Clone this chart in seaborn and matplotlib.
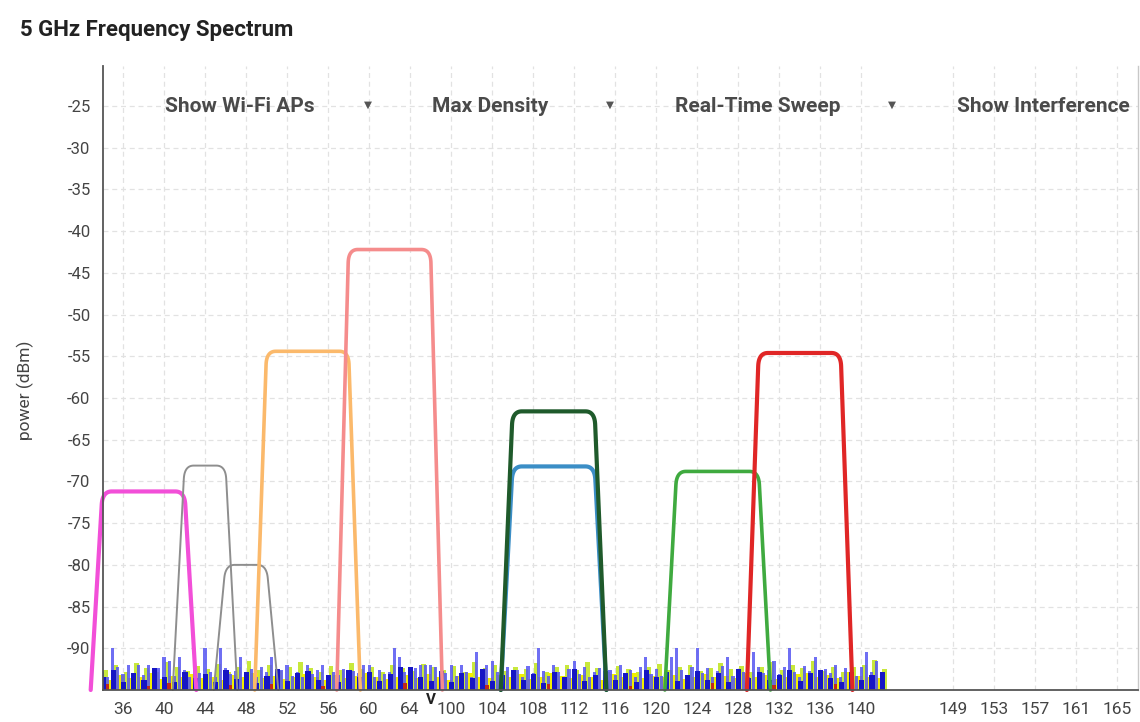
import numpy as np
import pandas as pd
import matplotlib
matplotlib.use("Agg")
import matplotlib.pyplot as plt
import seaborn as sns

# ---------------- data ----------------
tick_channels = [36, 40, 44, 48, 52, 56, 60, 64,
                 100, 104, 108, 112, 116, 120, 124, 128, 132, 136, 140,
                 149, 153, 157, 161, 165]
y_ticks = [-90, -85, -80, -75, -70, -65, -60, -55, -50, -45, -40, -35, -30, -25]

# access points: centre channel, channel width (MHz), peak power (dBm)
ap_channel = [38, 44, 48, 54, 62, 110, 110, 126, 134]
ap_width = [40, 20, 20, 40, 40, 40, 40, 40, 40]
ap_power = [-71.2, -68.1, -80.0, -54.4, -42.2, -68.2, -61.6, -68.8, -54.6]
ap_color = ["#f24fd8", "#8e8e8e", "#8e8e8e", "#fbb96b", "#f58c8c",
            "#3b8ec6", "#1f5a2b", "#3faa3f", "#e02626"]
ap_lw = [3.0, 1.4, 1.4, 2.6, 2.6, 3.0, 3.0, 2.6, 3.0]

# noise floor (dBm) — samples every half channel of the displayed axis from 34
blue_peak = [-92.8, -93.4, -90.0, -92.3, -93.1, -92.0, -93.6, -92.0, -93.2, -92.0,
             -93.0, -92.4, -91.0, -91.5, -93.3, -91.0, -92.6, -93.4, -92.2, -93.0,
             -90.0, -92.8, -93.5, -90.0, -92.4, -93.1, -92.7, -91.0, -93.2, -92.5,
             -93.4, -92.2, -92.9, -91.0, -93.0, -92.6, -92.0, -93.3, -92.8, -93.5,
             -92.0, -93.1, -92.6, -92.0, -93.4, -92.9, -93.2, -92.5, -93.6, -92.7,
             -93.0, -92.0, -92.0, -93.4, -92.6, -93.1, -92.8, -90.0, -91.0, -92.9,
             -93.2, -92.4, -92.0, -92.0, -92.0, -92.2, -93.5, -93.0, -92.0, -93.3,
             -92.0, -92.8, -93.4, -90.5, -93.0, -92.0, -91.5, -92.9, -93.4, -92.3,
             -93.1, -92.6, -93.5, -92.1, -93.0, -90.0, -92.7, -93.3, -92.0, -92.8,
             -93.4, -92.5, -91.5, -93.1, -92.2, -93.5, -92.9, -92.4, -90.0, -92.6,
             -93.2, -92.0, -93.0, -92.6, -93.4, -92.2, -91.0, -93.1, -92.5, -93.3,
             -92.8, -91.0, -90.0, -92.6, -93.2, -92.2, -90.0, -93.0, -92.4, -93.4,
             -92.7, -92.1, -91.0, -93.3, -92.5, -92.9, -93.4, -90.5, -92.2, -93.0,
             -92.6, -91.5, -93.1, -92.3, -90.0, -92.8, -93.4, -92.1, -92.7, -91.0,
             -93.2, -92.5, -93.0, -92.0, -93.5, -92.4, -92.9, -93.3, -92.2, -90.5,
             -92.8, -91.5, -93.0]
# samples every channel of the displayed axis from 34
blue_base = [-93.5, -92.6, -94.0, -93.0, -93.8, -92.4, -93.4, -94.1, -92.8, -93.6,
             -93.1, -94.0, -92.6, -93.7, -92.9, -94.2, -93.3, -92.5, -93.9, -93.0,
             -92.7, -93.8, -93.2, -94.0, -92.6, -93.5, -92.9, -93.9, -93.1, -92.3,
             -92.2, -93.4, -93.9, -92.7, -94.1, -93.0, -93.6, -92.5, -93.9, -93.2,
             -92.6, -93.8, -93.1, -94.2, -92.8, -93.5, -92.5, -93.9, -93.2, -92.7,
             -93.8, -93.0, -94.0, -92.6, -93.5, -92.9, -93.9, -93.2, -92.7, -93.8,
             -93.0, -94.0, -92.5, -93.6, -92.9, -93.8, -93.2, -92.6, -93.9, -93.0,
             -92.6, -93.6, -94.0, -92.9, -93.8, -93.2, -92.8]
green_noise = [-92.6, -92.0, -92.8, -91.8, -92.4, -92.9, -91.6, -92.3, -92.7, -92.1,
               -92.5, -91.9, -92.8, -92.2, -91.5, -92.6, -92.0, -92.7, -92.3, -91.7,
               -92.4, -92.9, -92.1, -92.6, -91.8, -92.5, -92.2, -92.8, -92.0, -92.4,
               -92.7, -91.9, -92.3, -92.6, -92.1, -92.8, -91.6, -92.4, -92.0, -92.7,
               -92.2, -92.5, -91.8, -92.9, -92.3, -92.0, -92.6, -91.7, -92.4, -92.8,
               -92.1, -92.5, -92.9, -92.2, -91.9, -92.6, -92.3, -92.0, -92.7, -92.4,
               -91.8, -92.5, -92.1, -92.8, -92.3, -91.6, -92.6, -92.0, -92.4, -91.5,
               -92.7, -92.2, -92.9, -92.3, -92.0, -91.4, -92.5]
yellow_noise = [-93.5, -93.8, -93.2, -93.6, -93.4, -93.0, -93.7, -93.3, -93.5, -93.1,
                -93.6, -93.4, -93.8, -93.2, -93.5, -93.0, -93.6, -93.3, -93.7, -93.4,
                -93.1, -93.5, -93.8, -93.2, -93.6, -93.3, -93.0, -93.5, -93.7, -93.4,
                -93.2, -93.6, -93.1, -93.5, -93.8, -93.3, -93.0, -93.4, -93.6, -93.2,
                -93.5, -93.1, -93.7, -93.4, -93.0, -93.3, -93.6, -93.2, -93.5, -93.8,
                -93.1, -93.4, -93.0, -93.6, -93.3, -93.5, -93.2, -93.7, -93.4, -93.1,
                -93.5, -93.3, -93.6, -93.0, -93.4, -93.2, -93.7, -93.5, -93.1, -93.0,
                -93.4, -93.2, -93.6, -92.8, -93.3, -93.5, -93.6]
red_channel = [34.5, 38.5, 40.5, 46.5, 50.5, 55.5, 63.5, 103.5, 109.5, 117.5, 125.5, 131.5, 137.5]
red_noise = [-94.3, -94.5, -94.2, -94.4, -94.3, -94.5, -94.2, -94.4, -94.3, -94.5, -94.2, -94.4, -94.3]

FLOOR = -95.0


def ch_to_x(ch):
    """Displayed axis skips the unused channels 66..98."""
    ch = np.asarray(ch, dtype=float)
    return np.where(ch <= 66, ch, ch - 32)


def ap_shape(cx, width, top):
    """Trapezoid with rounded top corners, from the floor up to `top`."""
    th = width / 10.0          # flat half width (channels)
    bh = th + 1.15             # half width at the floor
    rx, ry = 0.9, 1.6
    pts = []
    for side in (-1, 1):
        corner = np.array([cx + side * th, top])
        base = np.array([cx + side * bh, FLOOR])
        f = ry / (top - FLOOR)
        p_side = corner + f * (base - corner)
        p_top = np.array([cx + side * (th - rx), top])
        t = np.linspace(0, 1, 20)[:, None]
        bez = (1 - t) ** 2 * p_side + 2 * (1 - t) * t * corner + t ** 2 * p_top
        seg = np.vstack([base, bez])
        if side == 1:
            seg = seg[::-1]
        pts.append(seg)
    return np.vstack(pts)


# ---------------- figure ----------------
sns.set_theme(style="white")
plt.rcParams["font.family"] = ["Roboto", "DejaVu Sans"]

W, H = 1140, 722
fig = plt.figure(figsize=(W / 100, H / 100), dpi=100)
ax = fig.add_axes([103 / W, 1 - 690 / H, (1138 - 103) / W, (690 - 66) / H])

x0 = 34.0
# noise bars
xs_half = x0 + 0.5 * np.arange(len(blue_peak))
xs_one = x0 + 1.0 * np.arange(len(blue_base))
ax.bar(xs_one + 0.3, np.array(green_noise) - FLOOR, bottom=FLOOR, width=0.45,
       color="#c8e83c", linewidth=0, zorder=2)
ax.bar(xs_one - 0.2, np.array(yellow_noise) - FLOOR, bottom=FLOOR, width=0.7,
       color="#f2f000", linewidth=0, zorder=2)
ax.bar(xs_half, np.array(blue_peak) - FLOOR, bottom=FLOOR, width=0.3,
       color="#5656f2", alpha=0.85, linewidth=0, zorder=3)
ax.bar(xs_one + 0.05, np.array(blue_base) - FLOOR, bottom=FLOOR, width=0.5,
       color="#1616c4", linewidth=0, zorder=3)
ax.bar(ch_to_x(red_channel), np.array(red_noise) - FLOOR, bottom=FLOOR, width=0.35,
       color="#c0281e", linewidth=0, zorder=3)

# access point curves
for ch, w, p, c, lw in zip(ap_channel, ap_width, ap_power, ap_color, ap_lw):
    pts = ap_shape(float(ch_to_x(ch)), w, p)
    df = pd.DataFrame({"x": pts[:, 0], "y": pts[:, 1]})
    sns.lineplot(data=df, x="x", y="y", sort=False, estimator=None, ax=ax,
                 color=c, linewidth=lw, zorder=5)
    ax.lines[-1].set_clip_on(False)
    ax.lines[-1].set_solid_capstyle("round")
    ax.lines[-1].set_solid_joinstyle("round")

ax.set_xlim(34.05, 135.0)
ax.set_ylim(-95.0, -20.2)
ax.set_xticks(ch_to_x(tick_channels))
ax.set_xticklabels([str(c) for c in tick_channels])
ax.set_yticks(y_ticks)
ax.set_yticklabels([str(v) for v in y_ticks])
ax.set_xlabel("")
ax.set_ylabel("")

ax.grid(True, color="#e2e2e2", linestyle=(0, (4, 3)), linewidth=0.9, zorder=0)
ax.set_axisbelow(True)
ax.spines["top"].set_visible(False)
ax.spines["right"].set_color("#c8c8c8")
ax.spines["right"].set_linewidth(1.0)
for s in ("left", "bottom"):
    ax.spines[s].set_color("#555555")
    ax.spines[s].set_linewidth(1.3)
    ax.spines[s].set_zorder(6)

ax.tick_params(axis="x", which="major", direction="out", length=5, width=1.2,
               color="#444444", labelcolor="#444444", labelsize=12.5, pad=4)
ax.tick_params(axis="y", which="major", direction="out", length=5, width=1.2,
               color="#444444", labelcolor="#444444", labelsize=12, pad=4)

# axis break marker
ax.text(float(ch_to_x(66)), FLOOR - 0.4, "V", ha="center", va="top",
        fontsize=11, fontweight="bold", color="#222222", clip_on=False)

# texts
fig.text(20 / W, 1 - 30 / H, "5 GHz Frequency Spectrum", ha="left", va="center",
         fontsize=16, fontweight="bold", color="#222222")
fig.text(25 / W, 1 - 390 / H, "power (dBm)", rotation=90, ha="center", va="center",
         fontsize=12.5, color="#444444")

controls = ["Show Wi-Fi APs", "Max Density", "Real-Time Sweep", "Show Interference"]
ctrl_x = [165, 432, 675, 957]
arrow_x = [368, 610, 892]
for t, x in zip(controls, ctrl_x):
    fig.text(x / W, 1 - 106 / H, t, ha="left", va="center", fontsize=15,
             fontweight="bold", color="#4a4a4a")
for x in arrow_x:
    fig.text(x / W, 1 - 105 / H, "▼", ha="center", va="center", fontsize=7.5,
             color="#555555", family="DejaVu Sans")

fig.savefig("out.png", dpi=100, facecolor="white")
